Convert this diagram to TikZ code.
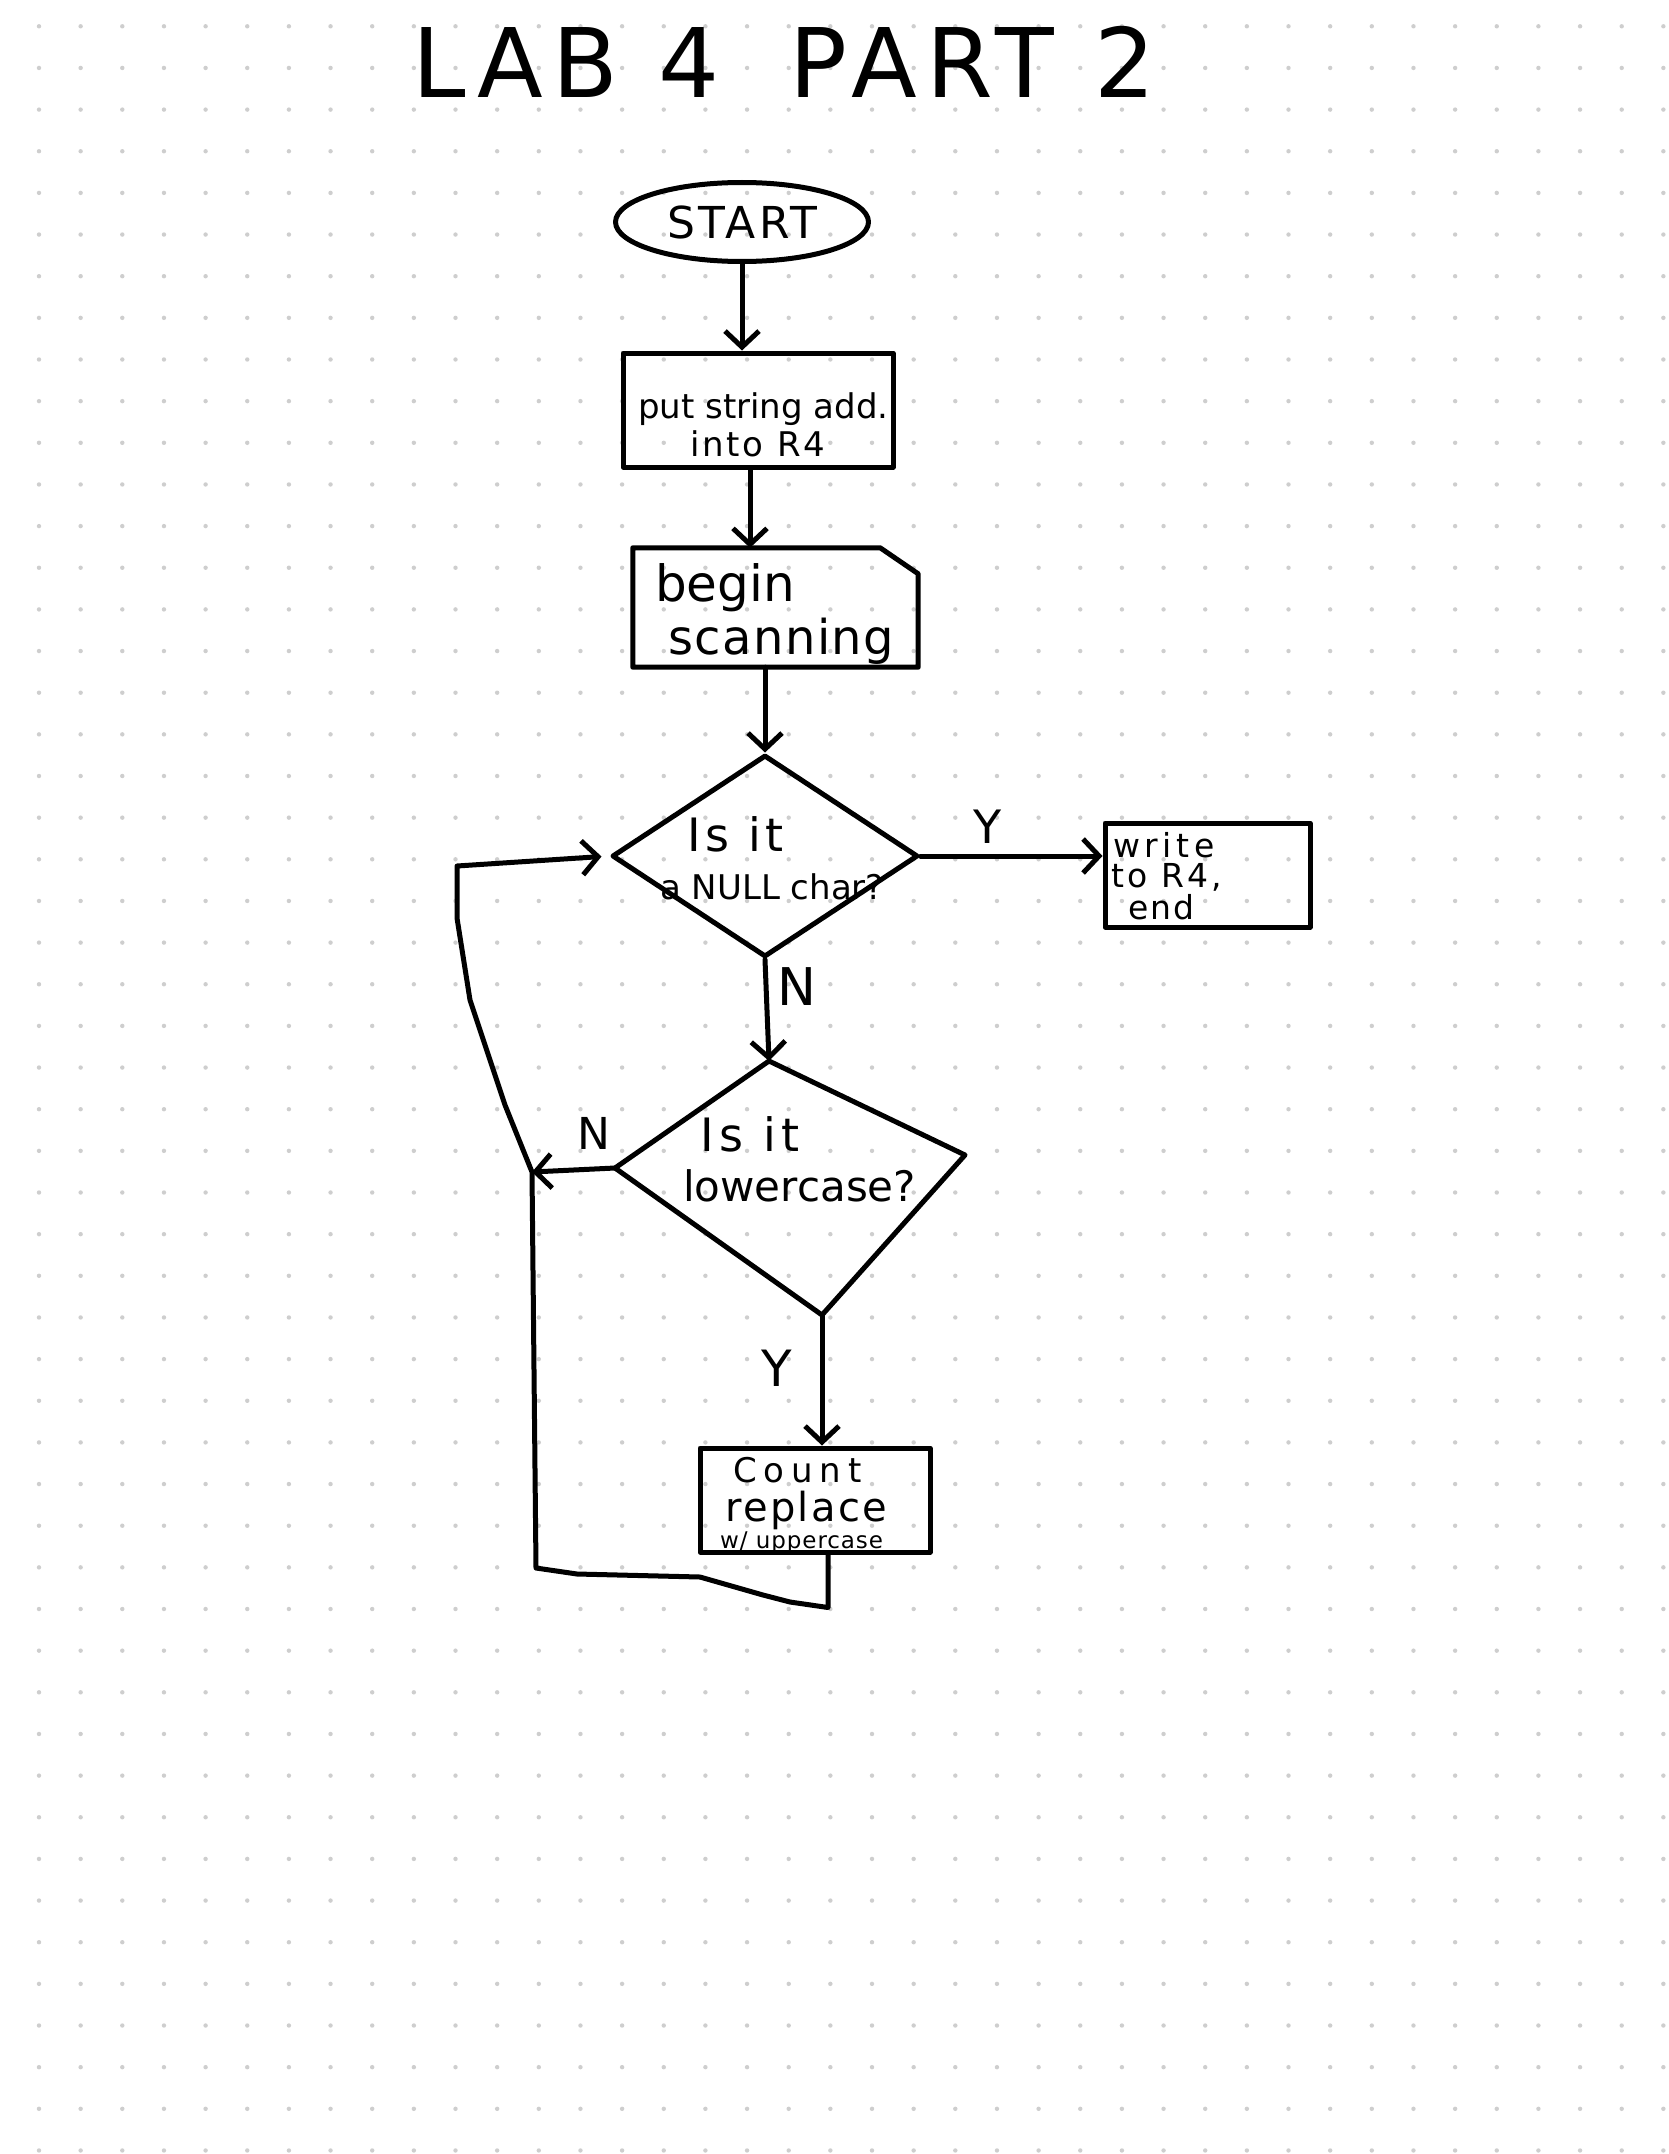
\documentclass[tikz,border=0pt]{standalone}
\usepackage{fontspec}
\setmainfont{DejaVu Sans}
\usetikzlibrary{arrows.meta,shapes.geometric}
\definecolor{dotgray}{RGB}{206,206,206}
\newcommand\hwsize[1]{\fontsize{#1}{#1}\selectfont}
\newcommand\wide[1]{\addfontfeature{LetterSpace=#1}}
\begin{document}
\begin{tikzpicture}[x=1pt,y=-1pt,
  ink/.style={line width=5pt,line cap=round,line join=round},
  flow/.style={ink,-{Straight Barb[length=16pt,width=34pt]}},
  stepbox/.style={ink,draw,rectangle,inner sep=0pt},
  hw/.style={inner sep=0pt,anchor=base west},
  lbl/.style={inner sep=0pt}]
\useasboundingbox (0,0) rectangle (1668,2154);
\fill[white] (0,0) rectangle (1668,2154);
% dotted notebook grid
\foreach \i in {0,...,39}
  \foreach \j in {0,...,51}
    \fill[dotgray] (39+41.65*\i,26.3+41.65*\j) circle (2.2pt);

% heading
\node[hw,font=\hwsize{96pt}\wide{10}] (title) at (412,98) {LAB 4\hspace{70pt}PART 2};

% start terminal
\node[ink,draw,ellipse,minimum width=253pt,minimum height=79pt,inner sep=0pt,
      font=\hwsize{44pt}\wide{8}] (start) at (742,222) {START};

% load address
\node[stepbox,minimum width=270pt,minimum height=114pt] (put) at (758,410) {};
\node[hw,font=\hwsize{34pt}] (putA) at (638,418) {put string add.};
\node[hw,font=\hwsize{34pt}\wide{8}] (putB) at (690,456) {into R4};

% begin scanning (box with a clipped corner)
\node[inner sep=0pt,minimum width=285pt,minimum height=119pt] (scan) at (775.5,607.5) {};
\draw[ink] (scan.north west) -- ([xshift=-38pt]scan.north east)
  -- ([yshift=-26pt]scan.north east) -- (scan.south east) -- (scan.south west) -- cycle;
\node[hw,font=\hwsize{50pt}] (scanA) at (655,601) {begin};
\node[hw,font=\hwsize{48pt}\wide{3}] (scanB) at (668,654) {scanning};

% null test
\node[ink,draw,diamond,minimum width=306pt,minimum height=202pt,inner sep=0pt] (null) at (765,856) {};
\node[hw,font=\hwsize{46pt}\wide{10}] (nullA) at (687,851) {Is it};
\node[hw,font=\hwsize{34pt}] (nullB) at (660,899) {a NULL char?};

% write and end
\node[stepbox,minimum width=205pt,minimum height=104pt] (done) at (1207.5,875) {};
\node[hw,font=\hwsize{33pt}\wide{14}] (doneA) at (1113,857) {write};
\node[hw,font=\hwsize{33pt}\wide{10}] (doneB) at (1111,887) {to R4,};
\node[hw,font=\hwsize{33pt}\wide{6}] (doneC) at (1128,919) {end};

% lowercase test
\coordinate (lcN) at (769,1061);
\coordinate (lcE) at (965,1155);
\coordinate (lcS) at (822,1315);
\coordinate (lcW) at (615,1168);
\draw[ink] (lcN) -- (lcE) -- (lcS) -- (lcW) -- cycle;
\node[hw,font=\hwsize{46pt}\wide{12}] (lcA) at (700,1151) {Is it};
\node[hw,font=\hwsize{42pt}] (lcB) at (683,1201) {lowercase?};

% count and replace
\node[stepbox,minimum width=230pt,minimum height=104pt] (count) at (815,1500) {};
\node[hw,font=\hwsize{34pt}\wide{20}] (countA) at (733,1482) {Count};
\node[hw,font=\hwsize{40pt}\wide{6}] (countB) at (725,1521) {replace};
\node[hw,font=\hwsize{23pt}\wide{4}] (countC) at (720,1548) {w/ uppercase};

% branch labels
\node[lbl,font=\hwsize{46pt}] (yes1) at (988,827) {Y};
\node[lbl,font=\hwsize{52pt}] (no1) at (797,987) {N};
\node[lbl,font=\hwsize{44pt}] (no2) at (594,1133) {N};
\node[lbl,font=\hwsize{50pt}] (yes2) at (777,1368) {Y};

% connectors
\draw[flow] (start.south) -- (start.south |- put.north);
\draw[flow] ([xshift=-8pt]put.south) -- ([xshift=-8pt]put.south |- scan.north);
\draw[flow] (scan.south -| null.north) -- (null.north);
\draw[flow] (null.east) -- (null.east -| done.west);
\draw[flow] (null.south) -- (lcN);
\draw[flow] (lcS) -- (lcS |- count.north);
\coordinate (join) at (532,1172);
\draw[flow] (lcW) -- (join);
\draw[flow,shorten >=8pt] ([xshift=13pt]count.south) -- ++(0,53) -- (790,1602)
  -- (763,1595) -- (700,1577) -- (577,1574) -- (536,1568) -- (join)
  -- (505,1105) -- (470,1000) -- (457,918) -- (457,866) -- (null.west);
\end{tikzpicture}
\end{document}
